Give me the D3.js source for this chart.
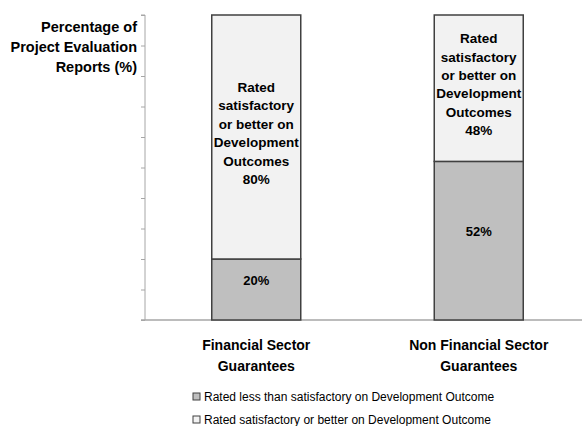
<!DOCTYPE html>
<html>
<head>
<meta charset="utf-8">
<script src="https://cdn.jsdelivr.net/npm/d3@7"></script>
<style>
  body { margin: 0; background: #fff; }
  text { font-family: "Liberation Sans", Arial, sans-serif; fill: #000; }
</style>
</head>
<body>
<svg id="chart" width="582" height="426"></svg>
<script>
// Chart data
var categories = [['Financial Sector', 'Guarantees'], ['Non Financial Sector', 'Guarantees']];
var lessThan = [20, 52];
var satisfactory = [80, 48];
var seriesNames = [
  'Rated less than satisfactory on Development Outcome',
  'Rated satisfactory or better on Development Outcome'
];
var insideLabel = ['Rated', 'satisfactory', 'or better on', 'Development', 'Outcomes'];
var yTicks = d3.range(0, 101, 10);
var colors = ['#bfbfbf', '#f2f2f2'];

var svg = d3.select('#chart');
// plot area edges (note: "top" is reserved on window, so use a plain object)
var plot = {left: 145, right: 590, top: 15, bottom: 320};

var x = d3.scaleBand().domain([0, 1]).range([plot.left, plot.right]);
var y = d3.scaleLinear().domain([0, 100]).range([plot.bottom, plot.top]);
var barW = x.bandwidth() * 0.4;

// Y axis, ticks only, no labels
var yAxis = svg.append('g')
  .attr('transform', `translate(${plot.left},0)`)
  .call(d3.axisLeft(y).tickValues(yTicks).tickSize(4).tickFormat(''));
yAxis.selectAll('path, line').attr('stroke', '#a6a6a6').attr('stroke-width', 1);
yAxis.select('.domain').attr('d', `M-4,${plot.top}H0V${plot.bottom}`);

// X axis baseline
svg.append('line')
  .attr('x1', plot.left - 4).attr('x2', 582)
  .attr('y1', plot.bottom).attr('y2', plot.bottom)
  .attr('stroke', '#a6a6a6').attr('stroke-width', 1.5);

// Stack the two series
var stacked = d3.stack().keys([0, 1])(lessThan.map((v, i) => ({0: v, 1: satisfactory[i]})));

stacked.forEach((layer, s) => {
  svg.append('g').selectAll('rect')
    .data(layer)
    .join('rect')
      .attr('x', (d, i) => x(i) + (x.bandwidth() - barW) / 2)
      .attr('y', d => y(d[1]))
      .attr('width', barW)
      .attr('height', d => y(d[0]) - y(d[1]))
      .attr('fill', colors[s])
      .attr('stroke', '#404040')
      .attr('stroke-width', 1.5);
});

// Values inside the lower segment (sit a bit above the middle, like the original)
svg.append('g').selectAll('text')
  .data(stacked[0])
  .join('text')
    .attr('x', (d, i) => x(i) + x.bandwidth() / 2)
    .attr('y', d => (y(d[0]) + y(d[1])) / 2 - 5)
    .attr('text-anchor', 'middle')
    .attr('font-size', 13)
    .attr('font-weight', 'bold')
    .text(d => d[1] - d[0] + '%');

// Multi-line label inside the upper segment
stacked[1].forEach((d, i) => {
  var lines = insideLabel.concat([d[1] - d[0] + '%']);
  var mid = (y(d[0]) + y(d[1])) / 2 - 4;
  var lh = 18.4;
  var t = svg.append('text')
    .attr('text-anchor', 'middle')
    .attr('font-size', 13.5)
    .attr('font-weight', 'bold');
  lines.forEach((l, k) => {
    t.append('tspan')
      .attr('x', x(i) + x.bandwidth() / 2)
      .attr('y', mid + (k - (lines.length - 1) / 2) * lh + 5)
      .text(l);
  });
});

// Category labels
categories.forEach((c, i) => {
  var t = svg.append('text')
    .attr('text-anchor', 'middle')
    .attr('font-size', 14)
    .attr('font-weight', 'bold');
  c.forEach((l, k) => {
    t.append('tspan')
      .attr('x', x(i) + x.bandwidth() / 2)
      .attr('y', 350 + k * 21)
      .text(l);
  });
});

// Y axis title
var title = svg.append('text')
  .attr('text-anchor', 'end')
  .attr('font-size', 14.5)
  .attr('font-weight', 'bold');
['Percentage of', 'Project Evaluation', 'Reports (%)'].forEach((l, k) => {
  title.append('tspan').attr('x', 137).attr('y', 32 + k * 20).text(l);
});

// Legend
var legend = svg.append('g').selectAll('g')
  .data(seriesNames)
  .join('g')
    .attr('transform', (d, i) => `translate(193,${393 + i * 23})`);
legend.append('rect')
  .attr('width', 7).attr('height', 7)
  .attr('fill', (d, i) => colors[i])
  .attr('stroke', '#404040');
legend.append('text')
  .attr('x', 11).attr('y', 8)
  .attr('font-size', 12)
  .attr('fill', '#404040')
  .text(d => d);
</script>
</body>
</html>
